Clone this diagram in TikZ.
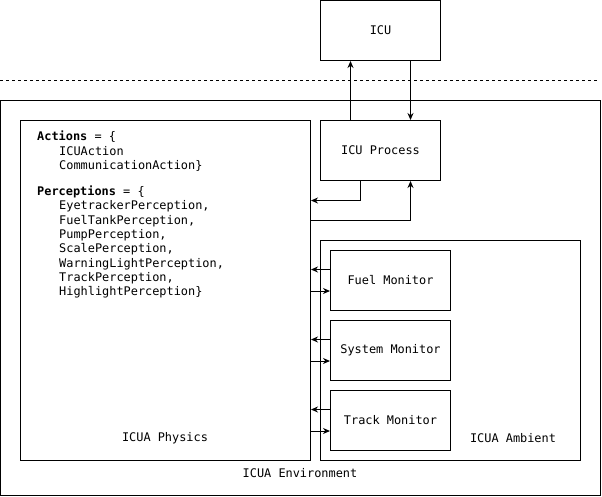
\documentclass[tikz,border=0pt]{standalone}
\usepackage{fontspec}
\setmonofont{DejaVu Sans Mono}
\usetikzlibrary{arrows.meta}
\begin{document}
\begin{tikzpicture}[x=1pt,y=-1pt,
  every node/.style={font=\ttfamily\fontsize{11.9}{14.33}\selectfont},
  box/.style={draw, line width=1pt, minimum width=120pt, minimum height=60pt, inner sep=0pt},
  frame/.style={draw, line width=1pt, inner sep=0pt},
  lbl/.style={inner sep=0pt},
  arr/.style={line width=1pt, -{Stealth[length=7pt,width=6pt]}}]
\useasboundingbox (0,0) rectangle (602,496);
% environment
\node[frame, minimum width=600pt, minimum height=395pt] (env) at (300.5,298) {};
\node[lbl] (envl) at (300,473) {ICUA Environment};
\draw[line width=1pt, dash pattern=on 3pt off 3pt] (0,80.5) coordinate (dl) -- (598,80.5) coordinate (dr);
% ICU
\node[box] (icu) at (380.5,30.5) {ICU};
\node[box] (icup) at (380.5,150.5) {ICU Process};
% physics
\node[frame, minimum width=290pt, minimum height=340pt] (phys) at (165.5,290.5) {};
\node[lbl] (physl) at (165,438) {ICUA Physics};
\node[lbl, anchor=north west, align=left] (txt) at (37,131)
 {\textbf{Actions} = \{\\
 \hspace*{22pt}ICUAction\\
 \hspace*{22pt}CommunicationAction\}\\[11.7pt]
 \textbf{Perceptions} = \{\\
 \hspace*{22pt}EyetrackerPerception,\\
 \hspace*{22pt}FuelTankPerception,\\
 \hspace*{22pt}PumpPerception,\\
 \hspace*{22pt}ScalePerception,\\
 \hspace*{22pt}WarningLightPerception,\\
 \hspace*{22pt}TrackPerception,\\
 \hspace*{22pt}HighlightPerception\}};
% ambient
\node[frame, minimum width=260pt, minimum height=220pt] (amb) at (450.5,350.5) {};
\node[lbl] (ambl) at (513,438) {ICUA Ambient};
\node[box] (fuel) at (390.5,280.5) {Fuel Monitor};
\node[box] (sys) at (390.5,350.5) {System Monitor};
\node[box] (trk) at (390.5,420.5) {Track Monitor};
% ICU <-> ICU process
\coordinate (xa) at (350.5,0);
\coordinate (xb) at (410.5,0);
\draw[arr] (icup.north -| xa) -- (icu.south -| xa);
\draw[arr] (icu.south -| xb) -- (icup.north -| xb);
% ICU process <-> physics
\coordinate (pa) at (360.5,200.5);
\coordinate (pb) at (410.5,220.5);
\draw[arr] (icup.south -| pa) |- (phys.east |- pa);
\draw[arr] (phys.east |- pb) -| (icup.south -| pb);
% monitors
\foreach \m in {fuel,sys,trk}{
  \path ([yshift=-19.5pt]\m.north west) coordinate (\m1)
        ([yshift=-41pt]\m.north west) coordinate (\m2);
  \draw[arr] (\m1) -- (\m1 -| phys.east);
  \draw[arr] (\m2 -| phys.east) -- (\m2);
}
\end{tikzpicture}
\end{document}
